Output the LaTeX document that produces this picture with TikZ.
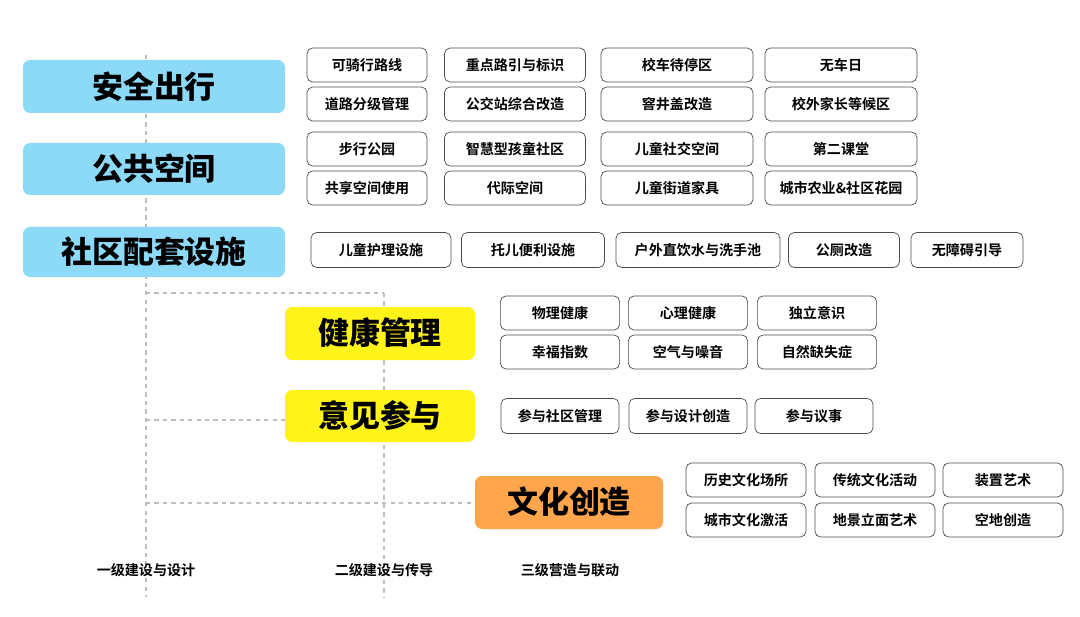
\documentclass[tikz,border=0pt]{standalone}
\usepackage{fontspec}
\setmainfont{Noto Sans CJK SC Bold}
\newfontfamily\heavy{Noto Sans CJK SC Black}
\begin{document}
\begin{tikzpicture}[x=0.025cm, y=-0.025cm,
    item/.style={draw=black!70, rounded corners=4pt, line width=0.5pt, font=\fontsize{10}{12}\selectfont},
    level/.style={rounded corners=5pt, font=\heavy\fontsize{22}{24}\selectfont},
    guide/.style={draw=black!25, dashed, line width=0.8pt}]
    \useasboundingbox (0,0) rectangle (1080,617);
    % dashed guides
    \draw[guide] (146,55) -- (146,597);
    \draw[guide] (384,293) -- (384,597);
    \draw[guide] (146,293) -- (384,293);
    \draw[guide] (146,420) -- (285,420);
    \draw[guide] (146,503) -- (475,503);
    % first level
    \fill[cyan!45, rounded corners=5pt] (23,60) rectangle (285,113);
    \fill[cyan!45, rounded corners=5pt] (23,143) rectangle (285,195);
    \fill[cyan!45, rounded corners=5pt] (23,227) rectangle (285,277);
    \node[level] (safe) at (154,87) {安全出行};
    \node[level] (public) at (154,169) {公共空间};
    \node[level] (facility) at (154,252) {社区配套设施};
    % second level
    \fill[yellow!90!white, rounded corners=5pt] (285,307) rectangle (475,360);
    \fill[yellow!90!white, rounded corners=5pt] (285,390) rectangle (475,442);
    \node[level] (health) at (380,333) {健康管理};
    \node[level] (opinion) at (380,416) {意见参与};
    % third level
    \fill[orange!70!white, rounded corners=5pt] (475,476) rectangle (663,529);
    \node[level] (culture) at (569,502) {文化创造};
    % items
    \foreach \x/\w/\t [count=\i] in {367/120/可骑行路线, 515/141/重点路引与标识, 677/152/校车待停区/等候区, 841/152/无车日}
        \node[item, minimum width=\w*0.025cm, minimum height=0.85cm] (s1\i) at (\x,65) {\t};
    \foreach \x/\w/\t [count=\i] in {367/120/道路分级管理, 515/141/公交站综合改造, 677/152/窨井盖改造, 841/152/校外家长等候区}
        \node[item, minimum width=\w*0.025cm, minimum height=0.85cm] (s2\i) at (\x,104) {\t};
    \foreach \x/\w/\t [count=\i] in {367/120/步行公园, 515/141/智慧型孩童社区, 677/152/儿童社交空间, 841/152/第二课堂}
        \node[item, minimum width=\w*0.025cm, minimum height=0.85cm] (p1\i) at (\x,149) {\t};
    \foreach \x/\w/\t [count=\i] in {367/120/共享空间使用, 515/141/代际空间, 677/152/儿童街道家具, 841/152/城市农业\&社区花园}
        \node[item, minimum width=\w*0.025cm, minimum height=0.85cm] (p2\i) at (\x,188) {\t};
    \foreach \x/\w/\t [count=\i] in {381/140/儿童护理设施, 533/143/托儿便利设施, 698/164/户外直饮水与洗手池, 844/111/公厕改造, 967/112/无障碍引导}
        \node[item, minimum width=\w*0.025cm, minimum height=0.875cm] (f\i) at (\x,250) {\t};
    \foreach \x/\t [count=\i] in {560/物理健康, 688/心理健康, 817/独立意识}
        \node[item, minimum width=2.98cm, minimum height=0.85cm] (h1\i) at (\x,313) {\t};
    \foreach \x/\t [count=\i] in {560/幸福指数, 688/空气与噪音, 817/自然缺失症}
        \node[item, minimum width=2.98cm, minimum height=0.85cm] (h2\i) at (\x,352) {\t};
    \foreach \x/\t [count=\i] in {560/参与社区管理, 688/参与设计创造, 814/参与议事}
        \node[item, minimum width=2.95cm, minimum height=0.875cm] (o\i) at (\x,416) {\t};
    \foreach \x/\t [count=\i] in {746/历史文化场所, 875/传统文化活动, 1003/装置艺术}
        \node[item, minimum width=3cm, minimum height=0.85cm] (c1\i) at (\x,480) {\t};
    \foreach \x/\t [count=\i] in {746/城市文化激活, 875/地景立面艺术, 1003/空地创造}
        \node[item, minimum width=3cm, minimum height=0.85cm] (c2\i) at (\x,520) {\t};
    % bottom captions
    \node[font=\fontsize{10}{12}\selectfont] (cap1) at (146,570) {一级建设与设计};
    \node[font=\fontsize{10}{12}\selectfont] (cap2) at (384,570) {二级建设与传导};
    \node[font=\fontsize{10}{12}\selectfont] (cap3) at (570,570) {三级营造与联动};
\end{tikzpicture}
\end{document}
